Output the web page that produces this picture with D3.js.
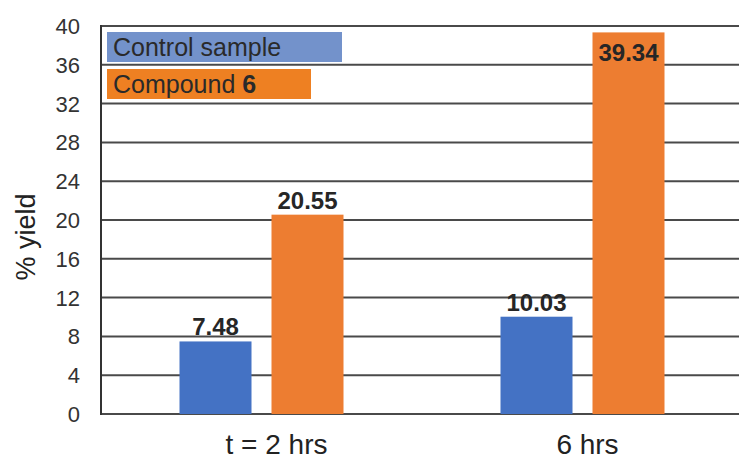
<!DOCTYPE html>
<html>
<head>
<meta charset="utf-8">
<script src="https://cdn.jsdelivr.net/npm/d3@7"></script>
<style>
  html, body { margin: 0; padding: 0; background: #fff; }
  svg { display: block; font-family: "Liberation Sans", Arial, sans-serif; }
</style>
</head>
<body>
<svg id="chart" width="739" height="461"></svg>
<script>
// Reaction yield at two time points
const categories = ["t = 2 hrs", "6 hrs"];
const seriesNames = ["Control sample", "Compound 6"];
const controlValues = [7.48, 10.03];
const compoundValues = [20.55, 39.34];
const yTicks = [0, 4, 8, 12, 16, 20, 24, 28, 32, 36, 40];

const barColors = ["#4472C4", "#ED7D31"];
const legendColors = ["#7392CB", "#EE8022"];

const svg = d3.select("#chart");
const margin = { left: 101, top: 26, bottom: 414, right: 743 };

const y = d3.scaleLinear().domain([0, 40]).range([margin.bottom, margin.top]);
const x0 = d3.scaleBand().domain(categories).range([margin.left, margin.right]).padding(0);
const bw = x0.bandwidth();
const x1 = d3.scaleBand().domain(seriesNames)
  .range([bw / 2 - 82, bw / 2 + 82]).paddingInner(0.2174).paddingOuter(0);
// category captions sit on their own, slightly shifted bands
const xLabel = d3.scaleBand().domain(categories).range([margin.left + 20, margin.right]).padding(0);

// horizontal gridlines
svg.append("g")
  .selectAll("line")
  .data(yTicks)
  .join("line")
  .attr("x1", margin.left).attr("x2", 739)
  .attr("y1", d => y(d)).attr("y2", d => y(d))
  .attr("stroke", "#4a4a4a").attr("stroke-width", 2);

// y axis line
svg.append("line")
  .attr("x1", margin.left).attr("x2", margin.left)
  .attr("y1", y(40) - 1).attr("y2", y(0) + 1)
  .attr("stroke", "#333").attr("stroke-width", 2);

// y tick labels
svg.append("g")
  .selectAll("text")
  .data(yTicks)
  .join("text")
  .attr("x", 80).attr("y", d => y(d))
  .attr("dy", "0.36em")
  .attr("text-anchor", "end")
  .attr("font-size", 22)
  .attr("fill", "#333")
  .text(d => d);

// y axis title
svg.append("text")
  .attr("transform", `translate(35, 237) rotate(-90)`)
  .attr("text-anchor", "middle")
  .attr("font-size", 27)
  .attr("fill", "#222")
  .text("% yield");

// bars
const rows = categories.map((c, i) => ({
  cat: c,
  vals: [
    { s: seriesNames[0], v: controlValues[i], k: 0 },
    { s: seriesNames[1], v: compoundValues[i], k: 1 }
  ]
}));

const groups = svg.append("g")
  .selectAll("g")
  .data(rows)
  .join("g")
  .attr("transform", d => `translate(${x0(d.cat)},0)`);

groups.selectAll("rect")
  .data(d => d.vals)
  .join("rect")
  .attr("x", d => x1(d.s))
  .attr("width", x1.bandwidth())
  .attr("y", d => y(d.v))
  .attr("height", d => y(0) - y(d.v))
  .attr("fill", d => barColors[d.k]);

// value labels: above the bar, or inside near the top when it reaches the frame
groups.selectAll("text")
  .data(d => d.vals)
  .join("text")
  .attr("x", d => x1(d.s) + x1.bandwidth() / 2)
  .attr("y", d => y(d.v) > y(36) ? y(d.v) - 6 : y(d.v) + 29)
  .attr("text-anchor", "middle")
  .attr("font-size", 24)
  .attr("font-weight", "bold")
  .attr("fill", "#262626")
  .text(d => d.v.toFixed(2));

// category labels
svg.append("g")
  .selectAll("text")
  .data(categories)
  .join("text")
  .attr("x", d => xLabel(d) + xLabel.bandwidth() / 2)
  .attr("y", 454)
  .attr("text-anchor", "middle")
  .attr("font-size", 28)
  .attr("fill", "#222")
  .text(d => d);

// legend
const legend = svg.append("g");
const legendWidths = [235, 204];
seriesNames.forEach((name, i) => {
  const top = 32 + i * 37;
  legend.append("rect")
    .attr("x", 107).attr("y", top)
    .attr("width", legendWidths[i]).attr("height", 30)
    .attr("fill", legendColors[i]);
  const t = legend.append("text")
    .attr("x", 113).attr("y", top + 24)
    .attr("font-size", 25)
    .attr("fill", "#2a2a2a");
  if (i === 1) {
    t.append("tspan").text("Compound ");
    t.append("tspan").attr("font-weight", "bold").text("6");
  } else {
    t.text(name);
  }
});
</script>
</body>
</html>
